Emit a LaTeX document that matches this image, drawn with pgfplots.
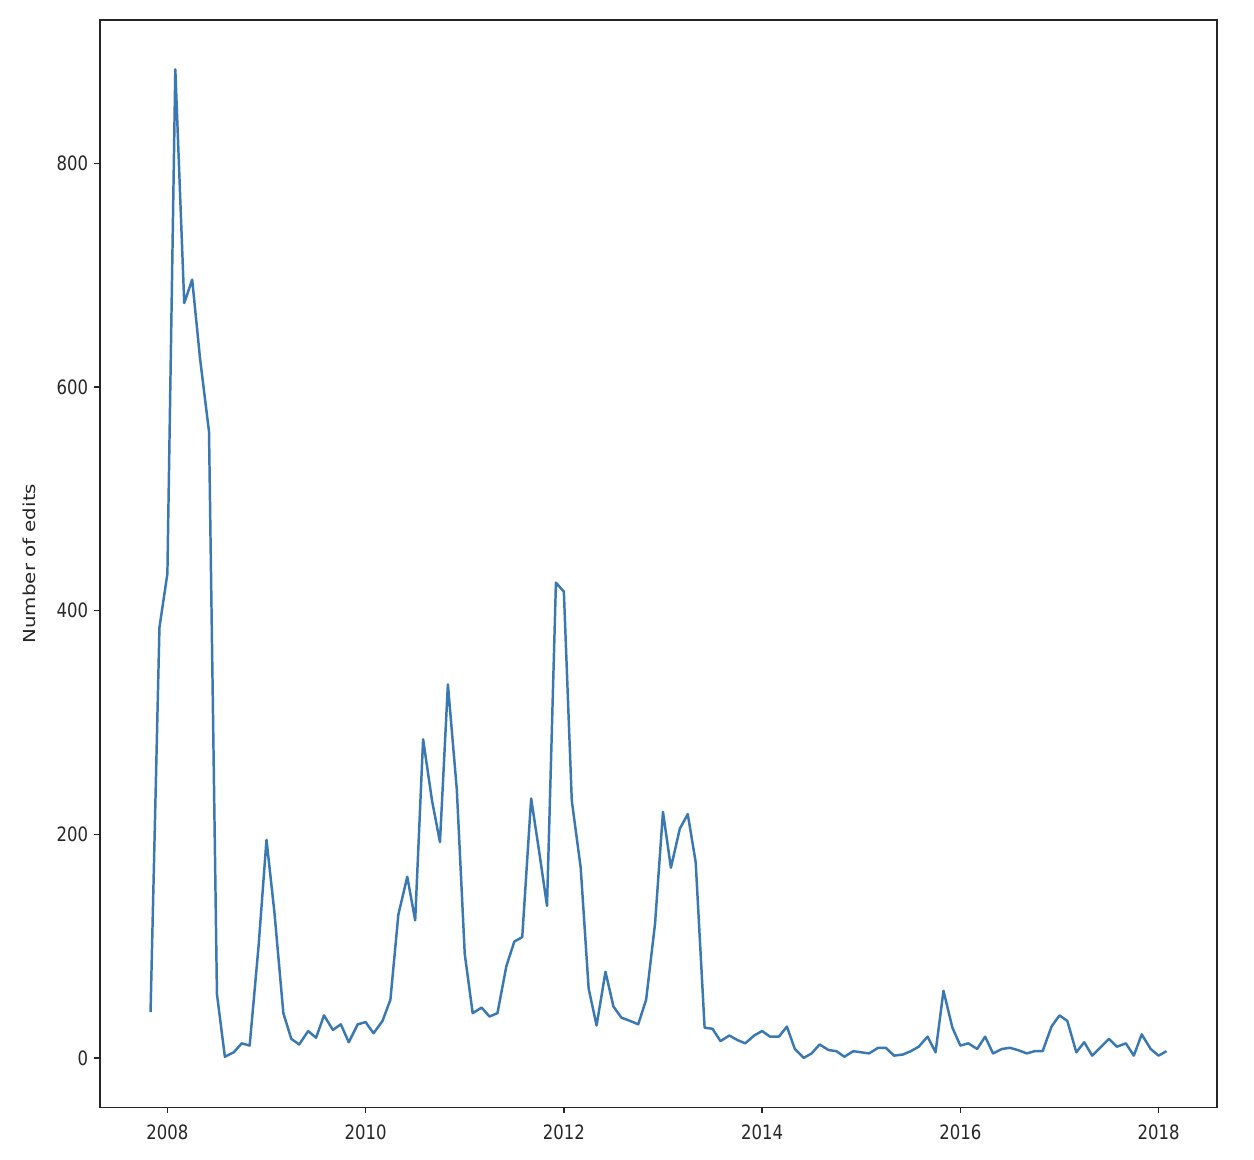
\documentclass[border=0pt]{standalone}
\usepackage{pgfplots}
\pgfplotsset{compat=1.18}
\usepackage{pgfplotstable}
\usepackage{fontspec}
\setmainfont{DejaVu Sans}
\definecolor{lineblue}{HTML}{3A78B2}
\definecolor{txt}{HTML}{262626}

\pgfplotstableread{
x y
2007.83 41
2007.92 385
2008.00 433
2008.08 884
2008.17 675
2008.25 696
2008.33 625
2008.42 560
2008.50 57
2008.58 1
2008.67 5
2008.75 13
2008.83 11
2008.92 100
2009.00 195
2009.08 130
2009.17 40
2009.25 17
2009.33 12
2009.42 24
2009.50 18
2009.58 38
2009.67 25
2009.75 30
2009.83 14
2009.92 30
2010.00 32
2010.08 22
2010.17 33
2010.25 52
2010.33 128
2010.42 162
2010.50 123
2010.58 285
2010.67 230
2010.75 193
2010.83 334
2010.92 240
2011.00 93
2011.08 40
2011.17 45
2011.25 37
2011.33 40
2011.42 82
2011.50 104
2011.58 108
2011.67 232
2011.75 185
2011.83 136
2011.92 425
2012.00 417
2012.08 230
2012.17 170
2012.25 62
2012.33 29
2012.42 77
2012.50 46
2012.58 36
2012.67 33
2012.75 30
2012.83 52
2012.92 120
2013.00 220
2013.08 170
2013.17 205
2013.25 218
2013.33 175
2013.42 27
2013.50 26
2013.58 15
2013.67 20
2013.75 16
2013.83 13
2013.92 20
2014.00 24
2014.08 19
2014.17 19
2014.25 28
2014.33 8
2014.42 0
2014.50 4
2014.58 12
2014.67 7
2014.75 6
2014.83 1
2014.92 6
2015.00 5
2015.08 4
2015.17 9
2015.25 9
2015.33 2
2015.42 3
2015.50 6
2015.58 10
2015.67 19
2015.75 5
2015.83 60
2015.92 27
2016.00 11
2016.08 13
2016.17 8
2016.25 19
2016.33 4
2016.42 8
2016.50 9
2016.58 7
2016.67 4
2016.75 6
2016.83 6
2016.92 28
2017.00 38
2017.08 33
2017.17 5
2017.25 14
2017.33 2
2017.42 10
2017.50 17
2017.58 10
2017.67 13
2017.75 2
2017.83 21
2017.92 8
2018.00 2
2018.08 6
}\edits

\begin{document}
\begin{tikzpicture}
\begin{axis}[
    scale only axis,
    width=677pt, height=659pt,
    xmin=2007.32, xmax=2018.59,
    ymin=-44.2, ymax=928.2,
    xtick={2008,2010,2012,2014,2016,2018},
    ytick={0,200,400,600,800},
    tick align=outside,
    major tick length=3.6pt,
    tick style={txt, line width=0.8pt},
    axis line style={txt, line width=0.8pt},
    xtick pos=bottom, ytick pos=left,
    /pgf/number format/assume math mode=true,
    /pgf/number format/set thousands separator={},
    ticklabel style={font=\fontsize{10}{12}\selectfont, text=txt, yscale=1.2},
    xticklabel style={yshift=-2.5pt},
    ylabel={Number of edits},
    ylabel style={font=\fontsize{10}{12}\selectfont, text=txt, xscale=1.2},
    ylabel shift=6pt,
]
\addplot[lineblue, line width=1.5pt, line join=round] table[x=x, y=y] {\edits};
\end{axis}
\path (current axis.south west) ++(-60.6pt,-31.5pt);
\path (current axis.north east) ++(22.4pt,12.1pt);
\end{tikzpicture}
\end{document}
